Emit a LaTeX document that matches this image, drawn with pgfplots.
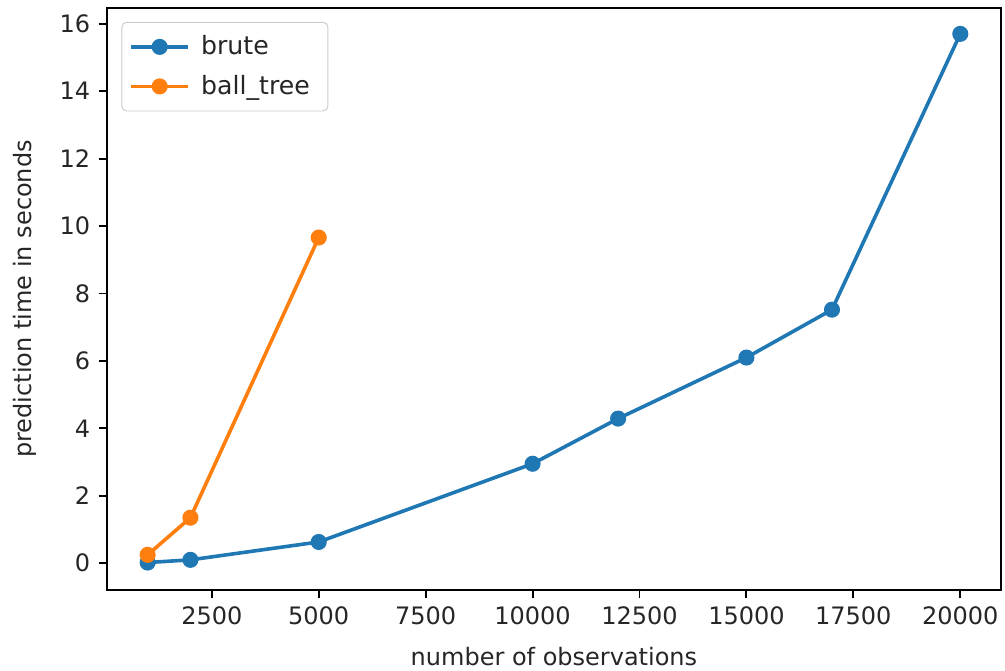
\documentclass[border=0pt]{standalone}
\usepackage{pgfplots}
\pgfplotsset{compat=1.18}
\usepackage{fontspec}
\setmainfont{DejaVu Sans}
\definecolor{mplblue}{HTML}{1F77B4}
\definecolor{mplorange}{HTML}{FF7F0E}
\begin{document}
\begin{tikzpicture}
\useasboundingbox (-44.6pt,-33.75pt) rectangle (374.2pt,245.8pt);
\begin{axis}[
  at={(0,0)}, anchor=south west,
  scale only axis, width=372.5pt, height=242.5pt,
  xmin=50, xmax=20950, ymin=-0.79, ymax=16.47,
  xtick={2500,5000,...,20000}, ytick={0,2,...,16},
  scaled x ticks=false,
  /pgf/number format/assume math mode=true,
  xticklabel style={/pgf/number format/1000 sep={}},
  tick align=outside, tick pos=left,
  major tick length=3.5pt,
  every tick/.style={black, line width=0.8pt},
  axis line style={line width=0.8pt},
  font=\fontsize{10pt}{12pt}\selectfont,
  ticklabel style={font=\fontsize{10pt}{12pt}\selectfont, text=black!85},
  xlabel={number of observations},
  ylabel={prediction time in seconds},
  every axis x label/.style={at={(axis description cs:0.5,0)}, yshift=-27.9pt, anchor=center, font=\fontsize{10pt}{12pt}\selectfont, text=black!85},
  every axis y label/.style={at={(axis description cs:0,0.5)}, xshift=-34.2pt, rotate=90, anchor=center, font=\fontsize{10pt}{12pt}\selectfont, text=black!85},
  legend cell align=left,
  legend style={at={(axis description cs:0,1)}, anchor=north west, xshift=6pt, yshift=-5.8pt,
    draw=black!20, rounded corners=2pt, fill=white, fill opacity=0.8, text opacity=1,
    font=\fontsize{10.5pt}{12pt}\selectfont, text=black!85,
    inner xsep=3pt, inner ysep=3.5pt, row sep=3pt,
    nodes={inner xsep=4.5pt}},
  legend image code/.code={\draw[fill opacity=1, draw opacity=1, mark repeat=2, mark phase=2] plot coordinates {(0pt,0pt) (12pt,0pt) (24pt,0pt)};},
]
\addplot[color=mplblue, line width=1.5pt, mark=*, mark size=3.1pt, mark options={solid, fill=mplblue, draw=mplblue, line width=0.5pt}]
  coordinates {(1000,0.02) (2000,0.10) (5000,0.63) (10000,2.95) (12000,4.29) (15000,6.10) (17000,7.52) (20000,15.70)};
\addlegendentry{brute}
\addplot[color=mplorange, line width=1.5pt, mark=*, mark size=3.1pt, mark options={solid, fill=mplorange, draw=mplorange, line width=0.5pt}]
  coordinates {(1000,0.25) (2000,1.35) (5000,9.66)};
\addlegendentry{ball\_tree}
\end{axis}
\end{tikzpicture}
\end{document}
